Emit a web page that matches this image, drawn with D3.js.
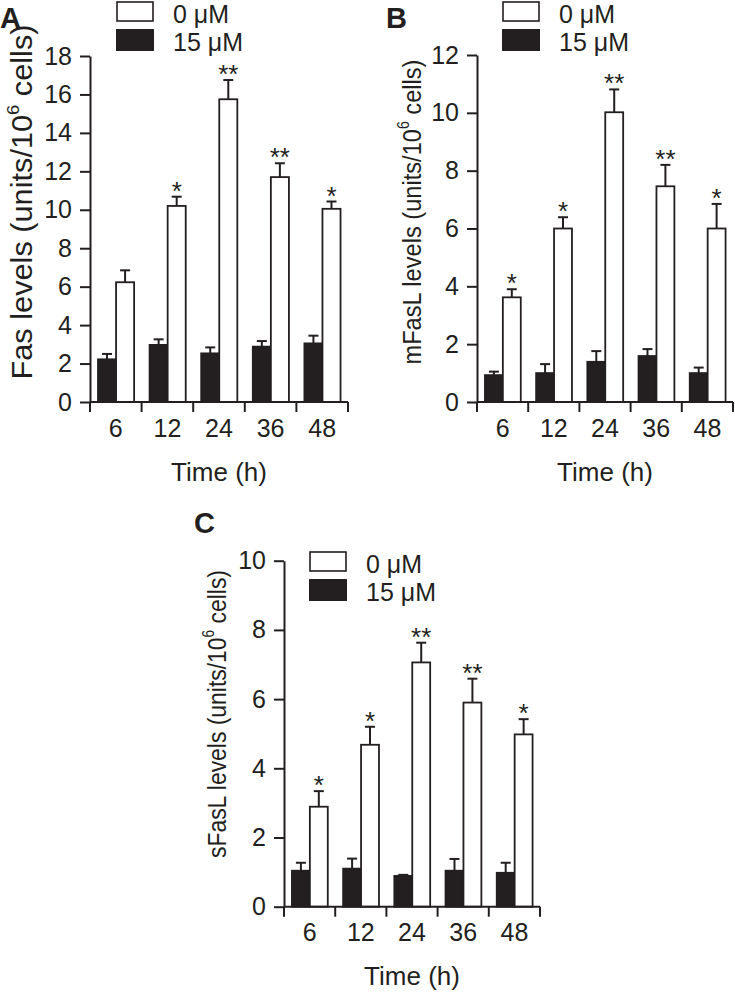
<!DOCTYPE html>
<html><head><meta charset="utf-8">
<script src="https://cdn.jsdelivr.net/npm/d3@7"></script>
<style>
html,body{margin:0;padding:0;background:#fff;}
svg{display:block;}
text{font-family:"Liberation Sans",Arial,Helvetica,sans-serif;fill:#231f20;}
</style></head>
<body>
<svg id="c" width="735" height="993"></svg>
<script>
// ---- data ----
const categories = ["6","12","24","36","48"];
const legendLabels = ["0 \u03bcM","15 \u03bcM"];
const xTitle = "Time (h)";

const fasCtrl     = [6.23, 10.2, 15.75, 11.7, 10.05];
const fasCtrlErr  = [0.62, 0.48, 1.0, 0.72, 0.38];
const fasTreat    = [2.22, 2.97, 2.53, 2.88, 3.05];
const fasTreatErr = [0.28, 0.29, 0.31, 0.29, 0.4];
const fasSig      = ["", "*", "**", "**", "*"];
const fasTicks    = [0,2,4,6,8,10,12,14,16,18];

const mCtrl     = [3.62, 6.0, 10.02, 7.46, 6.0];
const mCtrlErr  = [0.28, 0.39, 0.79, 0.74, 0.85];
const mTreat    = [0.93, 1.0, 1.39, 1.59, 1.0];
const mTreatErr = [0.12, 0.31, 0.37, 0.24, 0.19];
const mSig      = ["*", "*", "**", "**", "*"];
const mTicks    = [0,2,4,6,8,10,12];

const sCtrl     = [2.89, 4.68, 7.06, 5.9, 4.98];
const sCtrlErr  = [0.45, 0.52, 0.57, 0.69, 0.44];
const sTreat    = [1.04, 1.1, 0.89, 1.04, 0.98];
const sTreatErr = [0.23, 0.29, 0.03, 0.34, 0.29];
const sSig      = ["*", "*", "**", "**", "*"];
const sTicks    = [0,2,4,6,8,10];

// ---- layout ----
const INK = "#231f20";
const panels = [
  {letter:"A", lx:0, ly:28, x0:90, x1:348, yTop:56, yBot:402, max:18, ticks:fasTicks,
   ctrl:fasCtrl, ctrlErr:fasCtrlErr, treat:fasTreat, treatErr:fasTreatErr, sig:fasSig,
   yName:"Fas levels", ytx:22, yty:202, ytLen:355, ytFs:29,
   legX:116, legY:1, xtY:481},
  {letter:"B", lx:386, ly:28, x0:477, x1:733, yTop:55, yBot:402, max:12, ticks:mTicks,
   ctrl:mCtrl, ctrlErr:mCtrlErr, treat:mTreat, treatErr:mTreatErr, sig:mSig,
   yName:"mFasL levels", ytx:412, yty:212, ytLen:305, ytFs:26,
   legX:502, legY:1, xtY:481},
  {letter:"C", lx:194, ly:533, x0:284, x1:540, yTop:560.7, yBot:906.7, max:10, ticks:sTicks,
   ctrl:sCtrl, ctrlErr:sCtrlErr, treat:sTreat, treatErr:sTreatErr, sig:sSig,
   yName:"sFasL levels", ytx:217, yty:714, ytLen:288, ytFs:26,
   legX:309, legY:551, xtY:985}
];

const svg = d3.select("#c");

panels.forEach(p => {
  const g = svg.append("g");
  const y = d3.scaleLinear().domain([0, p.max]).range([p.yBot, p.yTop]);
  const x = d3.scaleBand().domain(categories).range([p.x0, p.x1]);
  const step = x.step();
  const bw = step * 0.35;
  const off = step * 0.155;

  // panel letter
  g.append("text").attr("x", p.lx).attr("y", p.ly).attr("font-size", 29)
    .attr("font-weight", "bold").text(p.letter);

  const rows = categories.map((c,i) => ({c, i}));
  const drawSeries = (vals, errs, fill, dx) => {
    g.selectAll(null).data(rows).enter().append("line")
      .attr("x1", d => x(d.c) + dx + bw/2).attr("x2", d => x(d.c) + dx + bw/2)
      .attr("y1", d => y(vals[d.i])).attr("y2", d => y(vals[d.i] + errs[d.i]))
      .attr("stroke", INK).attr("stroke-width", 2);
    g.selectAll(null).data(rows).enter().append("line")
      .attr("x1", d => x(d.c) + dx + bw/2 - 5).attr("x2", d => x(d.c) + dx + bw/2 + 5)
      .attr("y1", d => y(vals[d.i] + errs[d.i])).attr("y2", d => y(vals[d.i] + errs[d.i]))
      .attr("stroke", INK).attr("stroke-width", 2);
    g.selectAll(null).data(rows).enter().append("rect")
      .attr("x", d => x(d.c) + dx).attr("width", bw)
      .attr("y", d => y(vals[d.i])).attr("height", d => y(0) - y(vals[d.i]))
      .attr("fill", fill).attr("stroke", INK).attr("stroke-width", 1.8);
  };
  drawSeries(p.treat, p.treatErr, INK, off);
  drawSeries(p.ctrl, p.ctrlErr, "#fff", off + bw);

  // significance stars
  g.selectAll(null).data(rows).enter().append("text")
    .attr("x", d => x(d.c) + off + bw * 1.5)
    .attr("y", d => y(p.ctrl[d.i] + p.ctrlErr[d.i]) + 3)
    .attr("text-anchor", "middle").attr("font-size", 26)
    .text(d => p.sig[d.i]);

  // y axis
  const ya = g.append("g").attr("transform", `translate(${p.x0},0)`)
    .call(d3.axisLeft(y).tickValues(p.ticks).tickSize(10).tickSizeOuter(0).tickPadding(8));
  ya.selectAll("path,line").attr("stroke", INK).attr("stroke-width", 2);
  ya.selectAll("text").attr("font-size", 25).attr("font-family", null).attr("fill", INK);

  // x axis: labels centered in bands, ticks at band boundaries
  const xa = g.append("g").attr("transform", `translate(0,${p.yBot})`)
    .call(d3.axisBottom(x).tickSize(0).tickPadding(17));
  xa.select(".domain").remove();
  xa.selectAll("text").attr("font-size", 25).attr("font-family", null).attr("fill", INK);
  g.append("line").attr("x1", p.x0).attr("x2", p.x1).attr("y1", p.yBot).attr("y2", p.yBot)
    .attr("stroke", INK).attr("stroke-width", 2);
  const bounds = categories.map(c => x(c)).concat([x(categories[categories.length-1]) + step]);
  g.selectAll(null).data(bounds).enter().append("line")
    .attr("x1", d => d).attr("x2", d => d).attr("y1", p.yBot).attr("y2", p.yBot + 10)
    .attr("stroke", INK).attr("stroke-width", 2);

  // x title
  g.append("text").attr("x", (p.x0 + p.x1)/2).attr("y", p.xtY).attr("text-anchor", "middle")
    .attr("font-size", 26).text(xTitle);

  // y title
  const yt = g.append("text")
    .attr("transform", `translate(${p.ytx},${p.yty}) rotate(-90)`)
    .attr("text-anchor", "middle").attr("font-size", p.ytFs)
    .attr("dy", "0.35em")
    .attr("textLength", p.ytLen).attr("lengthAdjust", "spacingAndGlyphs");
  yt.append("tspan").text(p.yName + " (units/10");
  yt.append("tspan").attr("font-size", p.ytFs * 0.6).attr("dy", -p.ytFs * 0.45).text("6");
  yt.append("tspan").attr("dy", p.ytFs * 0.45).text(" cells)");

  // legend
  const lg = g.append("g");
  lg.append("rect").attr("x", p.legX + 1).attr("y", p.legY + 1).attr("width", 36).attr("height", 19)
    .attr("fill", "#fff").attr("stroke", INK).attr("stroke-width", 1.6);
  lg.append("rect").attr("x", p.legX).attr("y", p.legY + 28).attr("width", 38).attr("height", 22)
    .attr("fill", INK);
  lg.append("text").attr("x", p.legX + 57).attr("y", p.legY + 22).attr("font-size", 25).text(legendLabels[0]);
  lg.append("text").attr("x", p.legX + 57).attr("y", p.legY + 50).attr("font-size", 25).text(legendLabels[1]);
});
</script>
</body></html>
